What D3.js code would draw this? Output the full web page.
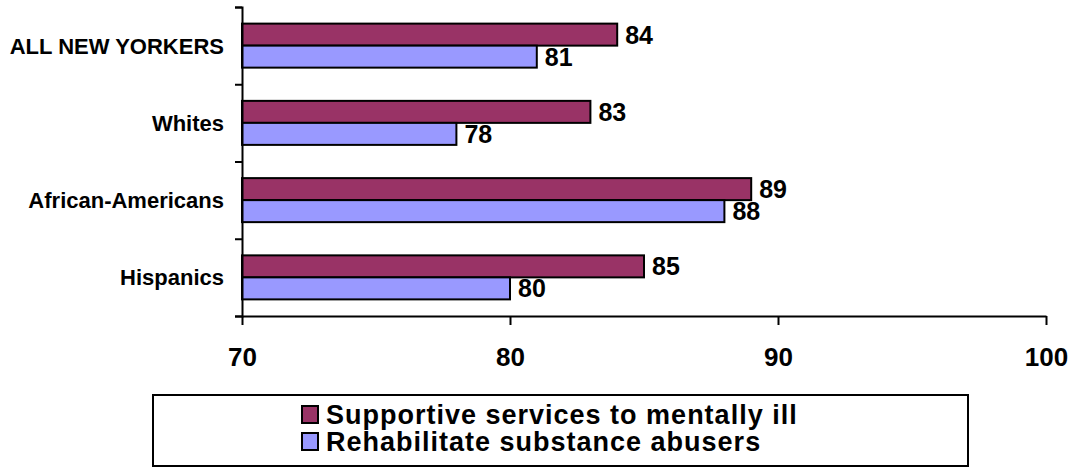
<!DOCTYPE html>
<html>
<head>
<meta charset="utf-8">
<script src="https://cdn.jsdelivr.net/npm/d3@7"></script>
<style>
  body { margin: 0; background: #fff; }
  svg { font-family: "Liberation Sans", Arial, sans-serif; font-weight: bold; }
  .axis path, .axis line { stroke: #000; stroke-width: 2px; }
</style>
</head>
<body>
<svg width="1075" height="468"></svg>
<script>
var categories = ["ALL NEW YORKERS", "Whites", "African-Americans", "Hispanics"];
var seriesNames = ["Supportive services to mentally ill", "Rehabilitate substance abusers"];
var supportive = [84, 83, 89, 85];
var rehabilitate = [81, 78, 88, 80];
var xTicks = [70, 80, 90, 100];
var colors = ["#993366", "#9999FF"];

var svg = d3.select("svg");

var x = d3.scaleLinear().domain([70, 100]).range([242, 1046]);
var y0 = d3.scaleBand().domain(categories).range([7, 316]);
var y1 = d3.scaleBand().domain(seriesNames).range([0, y0.bandwidth()]).paddingOuter(0.755);
var yTickScale = d3.scaleLinear().domain([0, categories.length]).range([7, 316]);

var data = categories.map(function(c, i) {
  return { cat: c, values: [
    { name: seriesNames[0], v: supportive[i], color: colors[0] },
    { name: seriesNames[1], v: rehabilitate[i], color: colors[1] }
  ] };
});

var groups = svg.selectAll(".grp")
  .data(data)
  .enter().append("g")
  .attr("class", "grp")
  .attr("transform", function(d) { return "translate(0," + y0(d.cat) + ")"; });

groups.selectAll("rect")
  .data(function(d) { return d.values; })
  .enter().append("rect")
  .attr("x", x(70))
  .attr("y", function(d) { return y1(d.name); })
  .attr("width", function(d) { return x(d.v) - x(70); })
  .attr("height", y1.bandwidth())
  .attr("fill", function(d) { return d.color; })
  .attr("stroke", "#000")
  .attr("stroke-width", 2);

groups.selectAll("text.val")
  .data(function(d) { return d.values; })
  .enter().append("text")
  .attr("class", "val")
  .attr("x", function(d) { return x(d.v) + 8; })
  .attr("y", function(d) { return y1(d.name) + y1.bandwidth() / 2; })
  .attr("dy", "0.36em")
  .attr("font-size", 25)
  .text(function(d) { return d.v; });

// y axis: ticks at band boundaries
svg.append("g")
  .attr("class", "axis")
  .attr("transform", "translate(" + x(70) + ",0)")
  .call(d3.axisLeft(yTickScale).ticks(categories.length).tickSize(7).tickSizeOuter(7).tickFormat(""));

svg.selectAll(".cat")
  .data(categories)
  .enter().append("text")
  .attr("class", "cat")
  .attr("x", 224)
  .attr("y", function(d) { return y0(d) + y0.bandwidth() / 2; })
  .attr("dy", "0.36em")
  .attr("text-anchor", "end")
  .attr("font-size", 22)
  .text(function(d) { return d; });

// x axis
var xAxis = svg.append("g")
  .attr("class", "axis")
  .attr("transform", "translate(0,316)")
  .call(d3.axisBottom(x).tickValues(xTicks).tickSize(9).tickSizeOuter(0).tickPadding(23));
xAxis.selectAll("text").attr("font-size", 26).attr("fill", "#000").attr("font-family", null).style("font-weight", "bold");

// legend
var legend = svg.append("g");
legend.append("rect")
  .attr("x", 153).attr("y", 395)
  .attr("width", 815).attr("height", 71)
  .attr("fill", "#fff").attr("stroke", "#000").attr("stroke-width", 2);

var items = legend.selectAll(".item")
  .data(seriesNames)
  .enter().append("g")
  .attr("transform", function(d, i) { return "translate(302," + (406 + i * 27) + ")"; });

items.append("rect")
  .attr("width", 16).attr("height", 17)
  .attr("fill", function(d, i) { return colors[i]; })
  .attr("stroke", "#000").attr("stroke-width", 2);

items.append("text")
  .attr("x", 24)
  .attr("y", 18)
  .attr("font-size", 27)
  .attr("letter-spacing", 1)
  .text(function(d) { return d; });
</script>
</body>
</html>
